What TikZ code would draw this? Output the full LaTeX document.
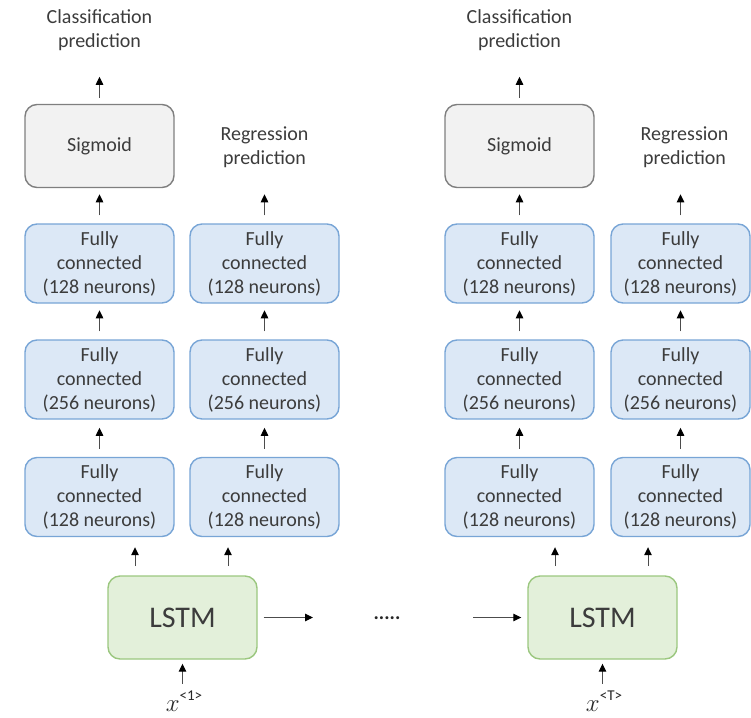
\documentclass[tikz,border=0pt]{standalone}
\usepackage{fontspec}
\setmainfont{Carlito}
\usetikzlibrary{arrows.meta,calc}
\definecolor{txt}{HTML}{3C3C3C}
\definecolor{fcfill}{HTML}{DCE8F6}
\definecolor{fcdraw}{HTML}{78A5D6}
\definecolor{sgfill}{HTML}{F2F2F2}
\definecolor{sgdraw}{HTML}{7F7F7F}
\definecolor{lsfill}{HTML}{E3F0DA}
\definecolor{lsdraw}{HTML}{9BC77F}
\tikzset{
  box/.style={rounded corners=12pt, line width=1.4pt, align=center, text=txt,
    font=\fontsize{20}{24}\selectfont, inner sep=0pt},
  fc/.style={box, fill=fcfill, draw=fcdraw, minimum width=149pt, minimum height=79pt},
  fcn/.style={fc, minimum width=139pt},
  sig/.style={box, fill=sgfill, draw=sgdraw, minimum width=149pt, minimum height=83pt},
  lstm/.style={box, fill=lsfill, draw=lsdraw, minimum width=149pt, minimum height=83pt,
    font=\fontsize{30}{34}\selectfont},
  lbl/.style={align=center, text=txt, font=\fontsize{20}{24}\selectfont, inner sep=0pt},
  arr/.style={draw=black!70, line width=1pt, -{Triangle[length=8pt,width=7.5pt,fill=black,color=black]}},
  varx/.style={inner sep=0pt, text=black!85}
}
\begin{document}
\begin{tikzpicture}[x=1pt,y=-1pt]
\useasboundingbox (0,0) rectangle (751,717);
\foreach \o/\p/\t in {0/a/1,420/b/T}{
  \begin{scope}[xshift=\o pt]
  \node[lbl] (\p cls) at (99.5,30) {Classification\\prediction};
  \node[lbl] (\p reg) at (264.5,147) {Regression\\prediction};
  \node[sig] (\p sig) at (99.5,146) {Sigmoid};
  \node[fc] (\p c1) at (99.5,263.5) {Fully\\connected\\(128 neurons)};
  \node[fc] (\p c2) at (99.5,379.5) {Fully\\connected\\(256 neurons)};
  \node[fc] (\p c3) at (99.5,497) {Fully\\connected\\(128 neurons)};
  \node[lstm] (\p ls) at (182.5,617.5) {LSTM};
  \node[varx] (\p x) at (184,701) {\fontsize{34}{34}\selectfont$x$\raisebox{11pt}{\fontsize{15}{15}\selectfont<\t>}};
  \coordinate (\p u1) at (135,576);
  \coordinate (\p u2) at (228,576);
  \draw[arr] ($(\p sig.north)+(0,-6)$) -- ($(\p sig.north)+(0,-27)$);
  \draw[arr] ($(\p c1.north)+(0,-8)$) -- ($(\p c1.north)+(0,-29)$);
  \draw[arr] ($(\p c2.north)+(0,-8)$) -- ($(\p c2.north)+(0,-29)$);
  \draw[arr] ($(\p c3.north)+(0,-8)$) -- ($(\p c3.north)+(0,-29)$);
  \draw[arr] ($(\p u1)+(0,-10)$) -- ($(\p u1 |- \p c3.south)+(0,10)$);
  \draw[arr] ($(\p ls.south)+(0,24)$) -- ($(\p ls.south)+(0,4)$);
  \end{scope}
}
% right columns
\node[fc] (ar1) at (264.5,263.5) {Fully\\connected\\(128 neurons)};
\node[fc] (ar2) at (264.5,379.5) {Fully\\connected\\(256 neurons)};
\node[fc] (ar3) at (264.5,497) {Fully\\connected\\(128 neurons)};
\node[fcn] (br1) at (680.5,263.5) {Fully\\connected\\(128 neurons)};
\node[fcn] (br2) at (680.5,379.5) {Fully\\connected\\(256 neurons)};
\node[fcn] (br3) at (680.5,497) {Fully\\connected\\(128 neurons)};
\foreach \p in {a,b}{
  \draw[arr] ($(\p r1.north)+(0,-8)$) -- ($(\p r1.north)+(0,-29)$);
  \draw[arr] ($(\p r2.north)+(0,-8)$) -- ($(\p r2.north)+(0,-29)$);
  \draw[arr] ($(\p r3.north)+(0,-8)$) -- ($(\p r3.north)+(0,-29)$);
  \draw[arr] ($(\p u2)+(0,-10)$) -- ($(\p u2 |- \p r3.south)+(0,10)$);
}
\node[lbl, text=black!85] (dots) at (387,618) {\textbf{.....}};
\coordinate (ae) at (313,617.5);
\coordinate (bs) at (473,617.5);
\draw[arr] ($(als.east)+(6,0)$) -- (ae);
\draw[arr] (bs) -- ($(bls.west)+(-6,0)$);
\end{tikzpicture}
\end{document}
